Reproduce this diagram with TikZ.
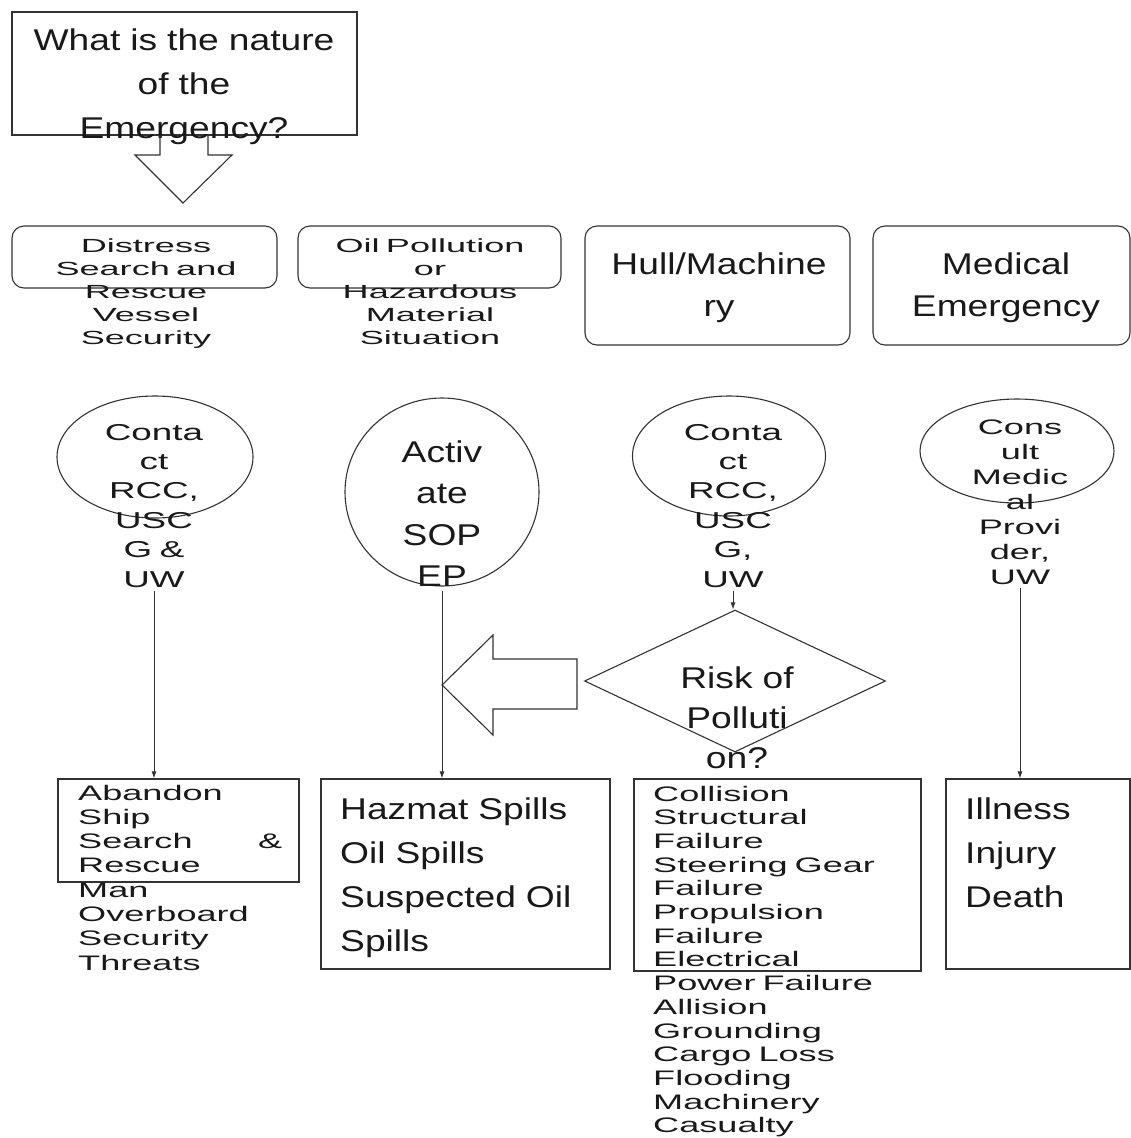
\documentclass[tikz,border=0pt]{standalone}
\usepackage{fontspec}
\setmainfont{Liberation Sans}
\newfontfamily\bigf[FakeStretch=1.24]{Liberation Sans}
\newfontfamily\midf[FakeStretch=1.6]{Liberation Sans}
\newfontfamily\widef[FakeStretch=1.72]{Liberation Sans}
\newfontfamily\boxf[FakeStretch=1.9]{Liberation Sans}
\usetikzlibrary{shapes.geometric}
\usetikzlibrary{arrows.meta}

\begin{document}
\begin{tikzpicture}[x=1pt,y=-1pt,
    line/.style={draw=black!80,line width=1.1pt},
    flow/.style={draw=black!80,line width=0.9pt,-{Latex[length=7pt,width=5pt]},shorten <=4pt},
    box/.style={line,rectangle,inner sep=0pt},
    rbox/.style={box,rounded corners=12pt},
    oval/.style={line,ellipse,inner sep=0pt},
    txt/.style={inner sep=0pt,text=black!90,anchor=base,align=center,text width=#1},
    lst/.style={inner sep=0pt,text=black!90,anchor=base west,align=left,text width=#1},
    big/.style={font={\bigf\fontsize{30}{#1}\selectfont\lineskiplimit=-100pt}},
    mid/.style={font={\midf\fontsize{23}{29.4}\selectfont\lineskiplimit=-100pt}},
    wide/.style={font={\widef\fontsize{21}{#1}\selectfont\lineskiplimit=-100pt}},
    small/.style={font={\boxf\fontsize{19}{23}\selectfont\lineskiplimit=-100pt}}]

    % fix the page
    \useasboundingbox (0,0) rectangle (1131,1138);

    % question at the top, with its block arrow
    \node[box,minimum width=345pt,minimum height=123pt] (nature) at (184.5,73.5) {};
    \node[txt=340pt,big=44] (tnature) at (184,50) {What is the nature\\of the\\Emergency?};
    \draw[line] (160,135) -- (160,155) -- (135,155) -- (183,203) -- (232,155) -- (208,155) -- (208,135);

    % kinds of emergency
    \node[rbox,minimum width=265pt,minimum height=62pt] (dist) at (144.5,257) {};
    \node[txt=260pt,small] (tdist) at (146,252) {Distress\\Search and\\Rescue\\Vessel\\Security};
    \node[rbox,minimum width=263pt,minimum height=62pt] (oil) at (429.5,257) {};
    \node[txt=260pt,small] (toil) at (430,252) {Oil Pollution\\or\\Hazardous\\Material\\Situation};
    \node[rbox,minimum width=265pt,minimum height=119pt] (hull) at (717.5,285.5) {};
    \node[txt=260pt,big=42] (thull) at (719,274) {Hull/Machine\\ry};
    \node[rbox,minimum width=257pt,minimum height=119pt] (med) at (1001.5,285.5) {};
    \node[txt=250pt,big=42] (tmed) at (1006,274) {Medical\\Emergency};

    % first actions
    \node[oval,minimum width=196pt,minimum height=122pt] (ctc1) at (155,457) {};
    \node[txt=120pt,mid] (tctc1) at (154,440) {Conta\\ct\\RCC,\\USC\\G \&\\UW};
    \node[oval,minimum width=194pt,minimum height=188pt] (sop) at (442,492) {};
    \node[txt=120pt,big=41.5] (tsop) at (442,462) {Activ\\ate\\SOP\\EP};
    \node[oval,minimum width=193pt,minimum height=120pt] (ctc3) at (729,456) {};
    \node[txt=120pt,mid] (tctc3) at (733,440) {Conta\\ct\\RCC,\\USC\\G,\\UW};
    \node[oval,minimum width=194pt,minimum height=104pt] (cmp) at (1017,451) {};
    \node[txt=120pt,wide=25] (tcmp) at (1020,434) {Cons\\ult\\Medic\\al\\Provi\\der,\\UW};

    % pollution check and its block arrow
    \node[line,diamond,inner sep=0pt,minimum width=301pt,minimum height=142pt] (risk) at (735,681) {};
    \node[txt=200pt,big=40] (trisk) at (737,688) {Risk of\\Polluti\\on?};
    \draw[line] (442,685) -- (493,635) -- (493,659) -- (577,659) -- (577,709) -- (493,709) -- (493,735) -- cycle;

    % lists of cases
    \node[box,minimum width=241pt,minimum height=103pt] (aband) at (178.5,830.5) {};
    \node[lst=204pt,wide=24.3] (taband) at (78,800) {Abandon\\Ship\\Search\hfill\&\\Rescue\\Man\\Overboard\\Security\\Threats};
    \node[box,minimum width=289pt,minimum height=190pt] (hazmat) at (465.5,874) {};
    \node[lst=270pt,big=44] (thazmat) at (340,819) {Hazmat Spills\\Oil Spills\\Suspected Oil\\Spills};
    \node[box,minimum width=287pt,minimum height=192pt] (cases) at (777.5,875) {};
    \node[lst=260pt,wide=23.7] (tcases) at (653,801) {Collision\\Structural\\Failure\\Steering Gear\\Failure\\Propulsion\\Failure\\Electrical\\Power Failure\\Allision\\Grounding\\Cargo Loss\\Flooding\\Machinery\\Casualty};
    \node[box,minimum width=184pt,minimum height=190pt] (ill) at (1038,874) {};
    \node[lst=160pt,big=44] (till) at (965,819) {Illness\\Injury\\Death};

    % connectors
    \foreach \a/\b in {ctc1/aband,sop/hazmat,ctc3/risk,cmp/ill}
      \draw[flow] (t\a.south) -- (t\a.south |- \b.north);

\end{tikzpicture}
\end{document}
